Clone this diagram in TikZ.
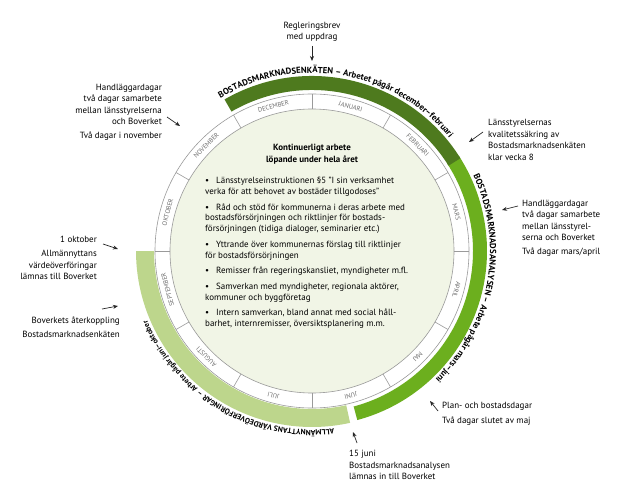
\documentclass[tikz,border=0pt]{standalone}
\usepackage{fontspec}
\setmainfont{PT Sans}
\usetikzlibrary{decorations.text,arrows.meta}
\definecolor{darkg}{HTML}{4E7A1E}
\definecolor{brightg}{HTML}{6CAF1E}
\definecolor{lightg}{HTML}{BDD68C}
\definecolor{discg}{HTML}{F1F5E6}
\definecolor{ringline}{HTML}{9A9A9A}
\definecolor{monthtxt}{HTML}{6E6E6E}
\newcommand\bul[1]{\par\hangindent=11bp\hangafter=1\noindent\makebox[11bp][l]{•}#1\par\vspace{4.5bp}}
\begin{document}
\begin{tikzpicture}[x=1bp,y=1bp,
  ann/.style={font=\fontsize{9}{11.5}\selectfont, inner sep=0pt},
  arr/.style={-{Stealth[length=5bp,width=4bp]}, line width=0.7bp, draw=black!85},
  month/.style={font=\fontsize{6.6}{7}\selectfont, text=monthtxt, inner sep=0pt},
  ringl/.style={draw=ringline, line width=0.6bp}
]
\useasboundingbox (0,0) rectangle (633,-484);
\fill[white] (0,0) rectangle (633,-484);

\begin{scope}[shift={(312,-251)}]
  % inner disc and month ring
  \fill[discg] (0,0) circle (142);
  \draw[ringl] (0,0) circle (142);
  \draw[ringl] (0,0) circle (157);
  \foreach \a in {0,30,...,330} \draw[ringl] (\a:142) -- (\a:157);
  \foreach \m/\a in {JANUARI/75,FEBRUARI/45,MARS/15,APRIL/-15,MAJ/-45,JUNI/-75,JULI/-105,AUGUSTI/-135,SEPTEMBER/-165,OKTOBER/165,NOVEMBER/135,DECEMBER/105}
    \node[month, rotate=\a-90] (m\m) at (\a:149.5) {\m};
  % arcs
  \fill[brightg] (33:175) arc[start angle=33, end angle=-75, radius=175] -- (-75:161) arc[start angle=-75, end angle=33, radius=161] -- cycle;
  \fill[darkg] (120:175) arc[start angle=120, end angle=32, radius=175] -- (32:161) arc[start angle=32, end angle=120, radius=161] -- cycle;
  \fill[lightg] (180:176) arc[start angle=180, end angle=282.5, radius=176] -- (282.5:158) arc[start angle=282.5, end angle=180, radius=158] -- cycle;
  % arc texts
  \path[decorate, decoration={text along path, text={|\bfseries\fontsize{8.8}{9}\selectfont|BOSTADSMARKNADSENKÄTEN – Arbetet pågår december–februari}}]
    (121:178) arc[start angle=121, end angle=0, radius=178];
  \path[decorate, decoration={text along path, text={|\bfseries\fontsize{8.8}{9}\selectfont|BOSTADSMARKNADSANALYSEN – Arbete pågår mars–juni}}]
    (25:178) arc[start angle=25, end angle=-85, radius=178];
  \path[decorate, decoration={text along path, text={|\bfseries\fontsize{7.6}{8}\selectfont|ALLMÄNNYTTANS VÄRDEÖVERFÖRINGAR – Arbete pågår juni–oktober}}]
    (-83:179) arc[start angle=-83, end angle=-210, radius=179];
\end{scope}

% inner text
\node[font=\bfseries\fontsize{9}{12}\selectfont, align=center, inner sep=0pt] (title) at (312,-154) {Kontinuerligt arbete\\löpande under hela året};
\node[anchor=north west, inner sep=0pt, font=\fontsize{9}{11}\selectfont] (list) at (205,-177) {\parbox[t]{240bp}{\raggedright
\bul{Länsstyrelseinstruktionen §5 ”I sin verksamhet\\verka för att behovet av bostäder tillgodoses”}
\bul{Råd och stöd för kommunerna i deras arbete med\\bostadsförsörjningen och riktlinjer för bostads-\\försörjningen (tidiga dialoger, seminarier etc.)}
\bul{Yttrande över kommunernas förslag till riktlinjer\\för bostadsförsörjningen}
\bul{Remisser från regeringskansliet, myndigheter m.fl.}
\bul{Samverkan med myndigheter, regionala aktörer,\\kommuner och byggföretag}
\bul{Intern samverkan, bland annat med social håll-\\barhet, internremisser, översiktsplanering m.m.}}};

% annotations
\node[ann, align=center] (reg) at (312,-32) {Regleringsbrev\\med uppdrag};
\coordinate (regS) at (312,-46); \coordinate (regE) at (312,-61);
\draw[arr] (regS) -- (regE);

\node[ann, align=right, anchor=east] (tl) at (162,-112) {Handläggardagar\\två dagar samarbete\\mellan länsstyrelserna\\och Boverket\\[2bp]Två dagar i november};
\coordinate (tlS) at (167,-117); \coordinate (tlE) at (180,-126);
\draw[arr] (tlS) -- (tlE);

\node[ann, align=left, anchor=west] (tr) at (488,-140) {Länsstyrelsernas\\kvalitetssäkring av\\Bostadsmarknadsenkäten\\klar vecka 8};
\coordinate (trS) at (483,-132); \coordinate (trE) at (469,-142);
\draw[arr] (trS) -- (trE);

\node[ann, align=left, anchor=west] (rm) at (522,-228) {Handläggardagar\\två dagar samarbete\\mellan länsstyrel-\\serna och Boverket\\[2bp]Två dagar mars/april};
\coordinate (rmS) at (518,-206); \coordinate (rmE) at (502,-210);
\draw[arr] (rmS) -- (rmE);

\node[ann, align=right, anchor=east] (lo) at (97,-258) {1 oktober\\[3bp]Allmännyttans\\värdeöverföringar\\lämnas till Boverket};
\coordinate (loS) at (103,-244); \coordinate (loE) at (118,-249);
\draw[arr] (loS) -- (loE);

\node[ann, align=right, anchor=east] (lb) at (120,-327) {Boverkets återkoppling\\[3bp]Bostadsmarknadsenkäten};
\coordinate (lbS) at (102,-309); \coordinate (lbE) at (118,-306);
\draw[arr] (lbS) -- (lbE);

\node[ann, align=left, anchor=west] (br) at (442,-414) {Plan- och bostadsdagar\\[3bp]Två dagar slutet av maj};
\coordinate (brS) at (438,-411); \coordinate (brE) at (430,-401);
\draw[arr] (brS) -- (brE);

\node[ann, align=left, anchor=west] (bt) at (349,-465) {15 juni\\Bostadsmarknadsanalysen\\lämnas in till Boverket};
\coordinate (btS) at (357,-443); \coordinate (btE) at (353,-432);
\draw[arr] (btS) -- (btE);
\end{tikzpicture}
\end{document}
